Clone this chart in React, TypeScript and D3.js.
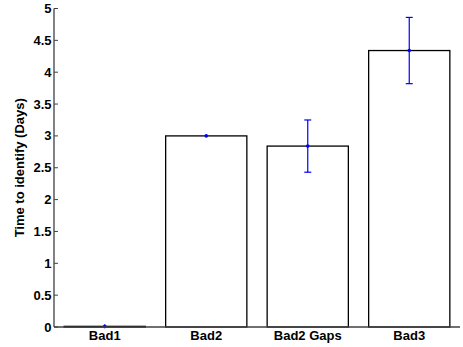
import React from "react";
import * as d3 from "d3";

const categories = ["Bad1", "Bad2", "Bad2 Gaps", "Bad3"];
const means = [0.01, 3.0, 2.84, 4.34];
const errors = [0.03, 0.0, 0.41, 0.52];
const yTicks = [0, 0.5, 1, 1.5, 2, 2.5, 3, 3.5, 4, 4.5, 5];
const yTickLabels = ["0", "0.5", "1", "1.5", "2", "2.5", "3", "3.5", "4", "4.5", "5"];
const yLabel = "Time to identify (Days)";

export default function App() {
  const W = 463, H = 347;
  const left = 54, right = 460, top = 8.5, bottom = 327;
  const x = d3.scaleLinear().domain([0.5, categories.length + 0.5]).range([left, right]);
  const y = d3.scaleLinear().domain([0, 5]).range([bottom, top]);
  const barW = (x(1) - x(0)) * 0.8;
  const font = "'Liberation Sans', Arial, Helvetica, sans-serif";
  const axisColor = "#404040";
  const fs = 13;
  return (
    <svg width={W} height={H} style={{ position: "absolute", left: 0, top: 0, background: "#fff" }} fontFamily={font}>
      <rect x={0} y={0} width={W} height={H} fill="#fff" />
      {means.map((m, i) => (
        <rect key={"b" + i} x={x(i + 1) - barW / 2} y={y(m)} width={barW} height={y(0) - y(m)}
          fill="#fff" stroke="#000" strokeWidth={1.3} />
      ))}
      {means.map((m, i) => {
        const cx = x(i + 1);
        const lo = y(m - errors[i]);
        const hi = y(m + errors[i]);
        return (
          <g key={"e" + i} stroke="#0000ff" strokeWidth={1.2}>
            <line x1={cx} x2={cx} y1={lo} y2={hi} />
            {errors[i] > 0.05 && <line x1={cx - 3.5} x2={cx + 3.5} y1={lo} y2={lo} />}
            {errors[i] > 0.05 && <line x1={cx - 3.5} x2={cx + 3.5} y1={hi} y2={hi} />}
            <circle cx={cx} cy={y(m)} r={1.8} fill="#0000ff" stroke="none" />
          </g>
        );
      })}
      <line x1={left} x2={left} y1={top} y2={bottom} stroke={axisColor} strokeWidth={1.3} />
      <line x1={left} x2={right} y1={bottom} y2={bottom} stroke={axisColor} strokeWidth={1.3} />
      {yTicks.map((t, i) => (
        <g key={"t" + i}>
          <line x1={left} x2={left + 4} y1={y(t)} y2={y(t)} stroke={axisColor} strokeWidth={1} />
          <text x={left - 2.5} y={y(t)} dy="0.35em" textAnchor="end" fontSize={fs} fontWeight="bold" fill="#000">
            {yTickLabels[i]}
          </text>
        </g>
      ))}
      {categories.map((c, i) => (
        <text key={"c" + i} x={x(i + 1)} y={340} textAnchor="middle" fontSize={fs} fontWeight="bold" fill="#000">
          {c}
        </text>
      ))}
      <text transform={`translate(24,${(top + bottom) / 2}) rotate(-90)`} textAnchor="middle" fontSize={fs}
        fontWeight="bold" fill="#000">
        {yLabel}
      </text>
    </svg>
  );
}
